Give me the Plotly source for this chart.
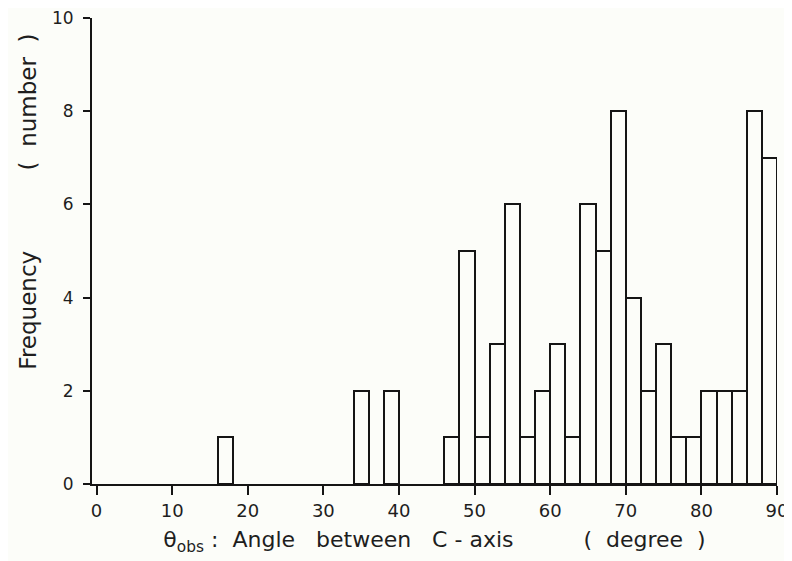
import plotly.graph_objects as go

# Histogram bins (left edges, degrees) and counts
bin_left = [16, 34, 38, 46, 48, 50, 52, 54, 56, 58, 60, 62, 64, 66, 68, 70, 72,
            74, 76, 78, 80, 82, 84, 86, 88]
counts = [1, 2, 2, 1, 5, 1, 3, 6, 1, 2, 3, 1, 6, 5, 8, 4, 2,
          3, 1, 1, 2, 2, 2, 8, 7]
bin_width = 2

x_ticks = [0, 10, 20, 30, 40, 50, 60, 70, 80, 90]
y_ticks = [0, 2, 4, 6, 8, 10]

x_title = "θ<sub>obs</sub> :  Angle   between   C - axis          (  degree  )"
y_title = "Frequency           (  number  )"

centers = [b + bin_width / 2 for b in bin_left]

bg = "#fcfdf9"
ink = "#151515"
font = "DejaVu Sans"

fig = go.Figure()
fig.add_trace(go.Bar(
    x=centers, y=counts, width=bin_width,
    marker=dict(color=bg, line=dict(color=ink, width=2)),
    showlegend=False,
))

fig.update_layout(
    width=784, height=553,
    margin=dict(l=84, r=15, t=10, b=77),
    paper_bgcolor=bg, plot_bgcolor=bg,
    font=dict(family=font, color="#1e1e1e", size=17),
    bargap=0,
    xaxis=dict(
        range=[-0.6, 90], tickvals=x_ticks, ticks="outside", ticklen=9,
        tickwidth=2, tickcolor=ink, showline=True, linecolor=ink,
        linewidth=2, showgrid=False, zeroline=False, automargin=False,
        tickfont=dict(size=18), ticklabeloverflow="allow",
        title=dict(text=x_title, font=dict(size=22), standoff=12),
    ),
    yaxis=dict(
        range=[0, 10], tickvals=y_ticks, ticks="outside", ticklen=7,
        tickwidth=2, tickcolor=ink, showline=True, linecolor=ink,
        linewidth=2, showgrid=False, zeroline=False, automargin=False,
        tickfont=dict(size=17), ticklabelstandoff=6, ticklabeloverflow="allow",
    ),
    annotations=[dict(
        text=y_title, textangle=-90, showarrow=False,
        xref="paper", yref="paper", x=-0.094, y=0.605,
        xanchor="center", yanchor="middle",
        font=dict(size=23, family=font, color="#1e1e1e"),
    )],
)

fig.write_html("out.html")
